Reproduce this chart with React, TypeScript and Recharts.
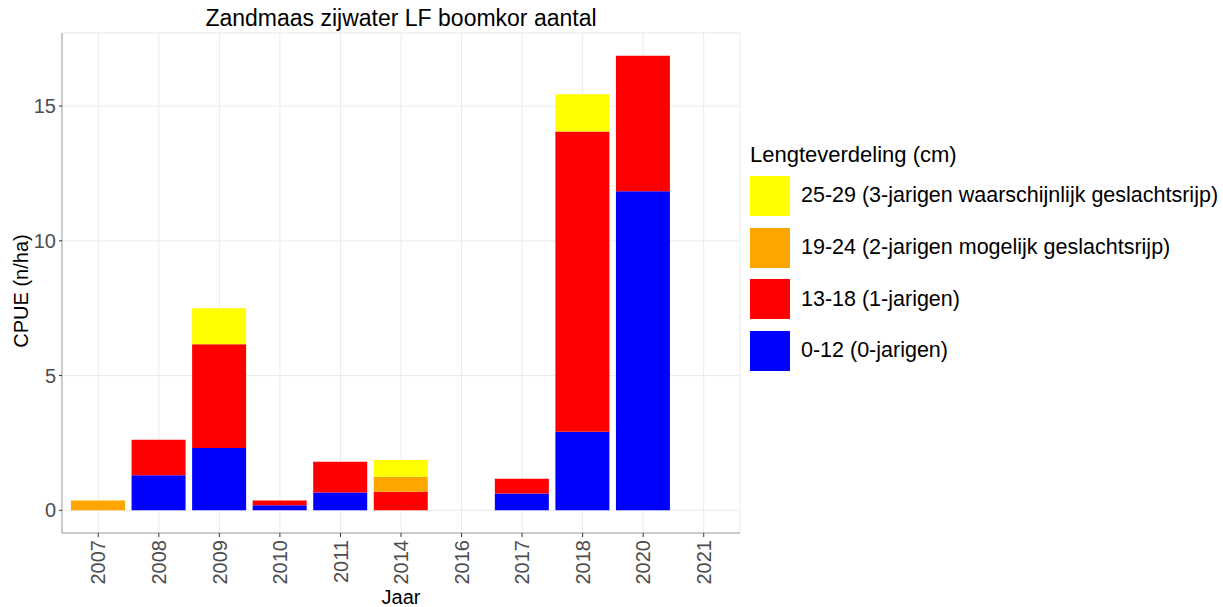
import { BarChart, Bar, XAxis, YAxis, CartesianGrid, Legend } from "recharts";

const years = ["2007", "2008", "2009", "2010", "2011", "2014", "2016", "2017", "2018", "2020", "2021"];
const age0 = [0, 1.3, 2.31, 0.19, 0.66, 0, 0, 0.63, 2.92, 11.84, 0];
const age1 = [0, 1.32, 3.85, 0.18, 1.14, 0.69, 0, 0.54, 11.14, 5.03, 0];
const age2 = [0.37, 0, 0, 0, 0, 0.56, 0, 0, 0, 0, 0];
const age3 = [0, 0, 1.34, 0, 0, 0.62, 0, 0, 1.38, 0, 0];
const yTicks = [0, 5, 10, 15];
const minorTicks = [2.5, 7.5, 12.5, 17.5];

const series = [
  { key: "a3", label: "25-29 (3-jarigen waarschijnlijk geslachtsrijp)", color: "#FFFF00" },
  { key: "a2", label: "19-24 (2-jarigen mogelijk geslachtsrijp)", color: "#FFA500" },
  { key: "a1", label: "13-18 (1-jarigen)", color: "#FF0000" },
  { key: "a0", label: "0-12 (0-jarigen)", color: "#0000FF" },
];

const data = years.map((year, i) => ({
  year,
  a0: age0[i],
  a1: age1[i],
  a2: age2[i],
  a3: age3[i],
}));

const FONT = "'Liberation Sans', Arial, sans-serif";
const domain: [number, number] = [-0.84, 17.71];

function XTick(props: any) {
  const { x, y, payload } = props;
  return (
    <text
      x={x}
      y={y}
      transform={`rotate(-90, ${x}, ${y})`}
      textAnchor="end"
      dy="0.36em"
      fontSize={20}
      fill="#4d4d4d"
      fontFamily={FONT}
    >
      {payload.value}
    </text>
  );
}

function LegendBox() {
  return (
    <div style={{ fontFamily: FONT, color: "#000" }}>
      <div style={{ fontSize: 22, height: 26, lineHeight: "22px", whiteSpace: "nowrap" }}>
        Lengteverdeling (cm)
      </div>
      {series.map((s) => (
        <div key={s.key} style={{ display: "flex", alignItems: "center", height: 51.7 }}>
          <div style={{ width: 40, height: 40, background: s.color, marginRight: 11 }} />
          <span style={{ fontSize: 21.5, whiteSpace: "nowrap" }}>{s.label}</span>
        </div>
      ))}
    </div>
  );
}

export default function App() {
  return (
    <div style={{ position: "absolute", left: 0, top: 0, background: "#fff" }}>
      <BarChart
        width={1223}
        height={607}
        data={data}
        margin={{ top: 33, right: 483, bottom: 0, left: 0 }}
        barCategoryGap="5%"
      >
        <CartesianGrid yAxisId="minor" stroke="#f3f3f3" strokeWidth={0.7} vertical={false} />
        <CartesianGrid stroke="#ebebeb" />
        <XAxis
          dataKey="year"
          height={74}
          padding={{ left: 6, right: 6 }}
          axisLine={{ stroke: "#a0a0a0" }}
          tickLine={{ stroke: "#333" }}
          tickSize={4}
          tickMargin={3}
          interval={0}
          tick={<XTick />}
        />
        <XAxis
          xAxisId="top"
          dataKey="year"
          orientation="top"
          height={0}
          padding={{ left: 6, right: 6 }}
          axisLine={{ stroke: "#a0a0a0" }}
          tick={false}
          tickLine={false}
        />
        <YAxis
          width={62}
          domain={domain}
          ticks={yTicks}
          allowDataOverflow
          axisLine={{ stroke: "#a0a0a0" }}
          tickLine={{ stroke: "#333" }}
          tickSize={3}
          tickMargin={3}
          tick={{ fontSize: 20, fill: "#4d4d4d", fontFamily: FONT }}
        />
        <YAxis
          yAxisId="minor"
          orientation="right"
          width={0}
          domain={domain}
          ticks={minorTicks}
          allowDataOverflow
          axisLine={{ stroke: "#a0a0a0" }}
          tick={false}
          tickLine={false}
        />
        {[...series].reverse().map((s) => (
          <Bar key={s.key} dataKey={s.key} stackId="s" fill={s.color} isAnimationActive={false} />
        ))}
        <Legend
          layout="vertical"
          align="center"
          verticalAlign="middle"
          content={<LegendBox />}
          wrapperStyle={{ left: 750, top: 144, width: 470, height: 240 }}
        />
        <text x={401} y={26} textAnchor="middle" fontSize={23} fontFamily={FONT} fill="#000">
          Zandmaas zijwater LF boomkor aantal
        </text>
        <text
          x={28}
          y={291}
          transform="rotate(-90, 28, 291)"
          textAnchor="middle"
          fontSize={20}
          fontFamily={FONT}
          fill="#000"
        >
          CPUE (n/ha)
        </text>
        <text x={401} y={604} textAnchor="middle" fontSize={20} fontFamily={FONT} fill="#000">
          Jaar
        </text>
      </BarChart>
    </div>
  );
}
